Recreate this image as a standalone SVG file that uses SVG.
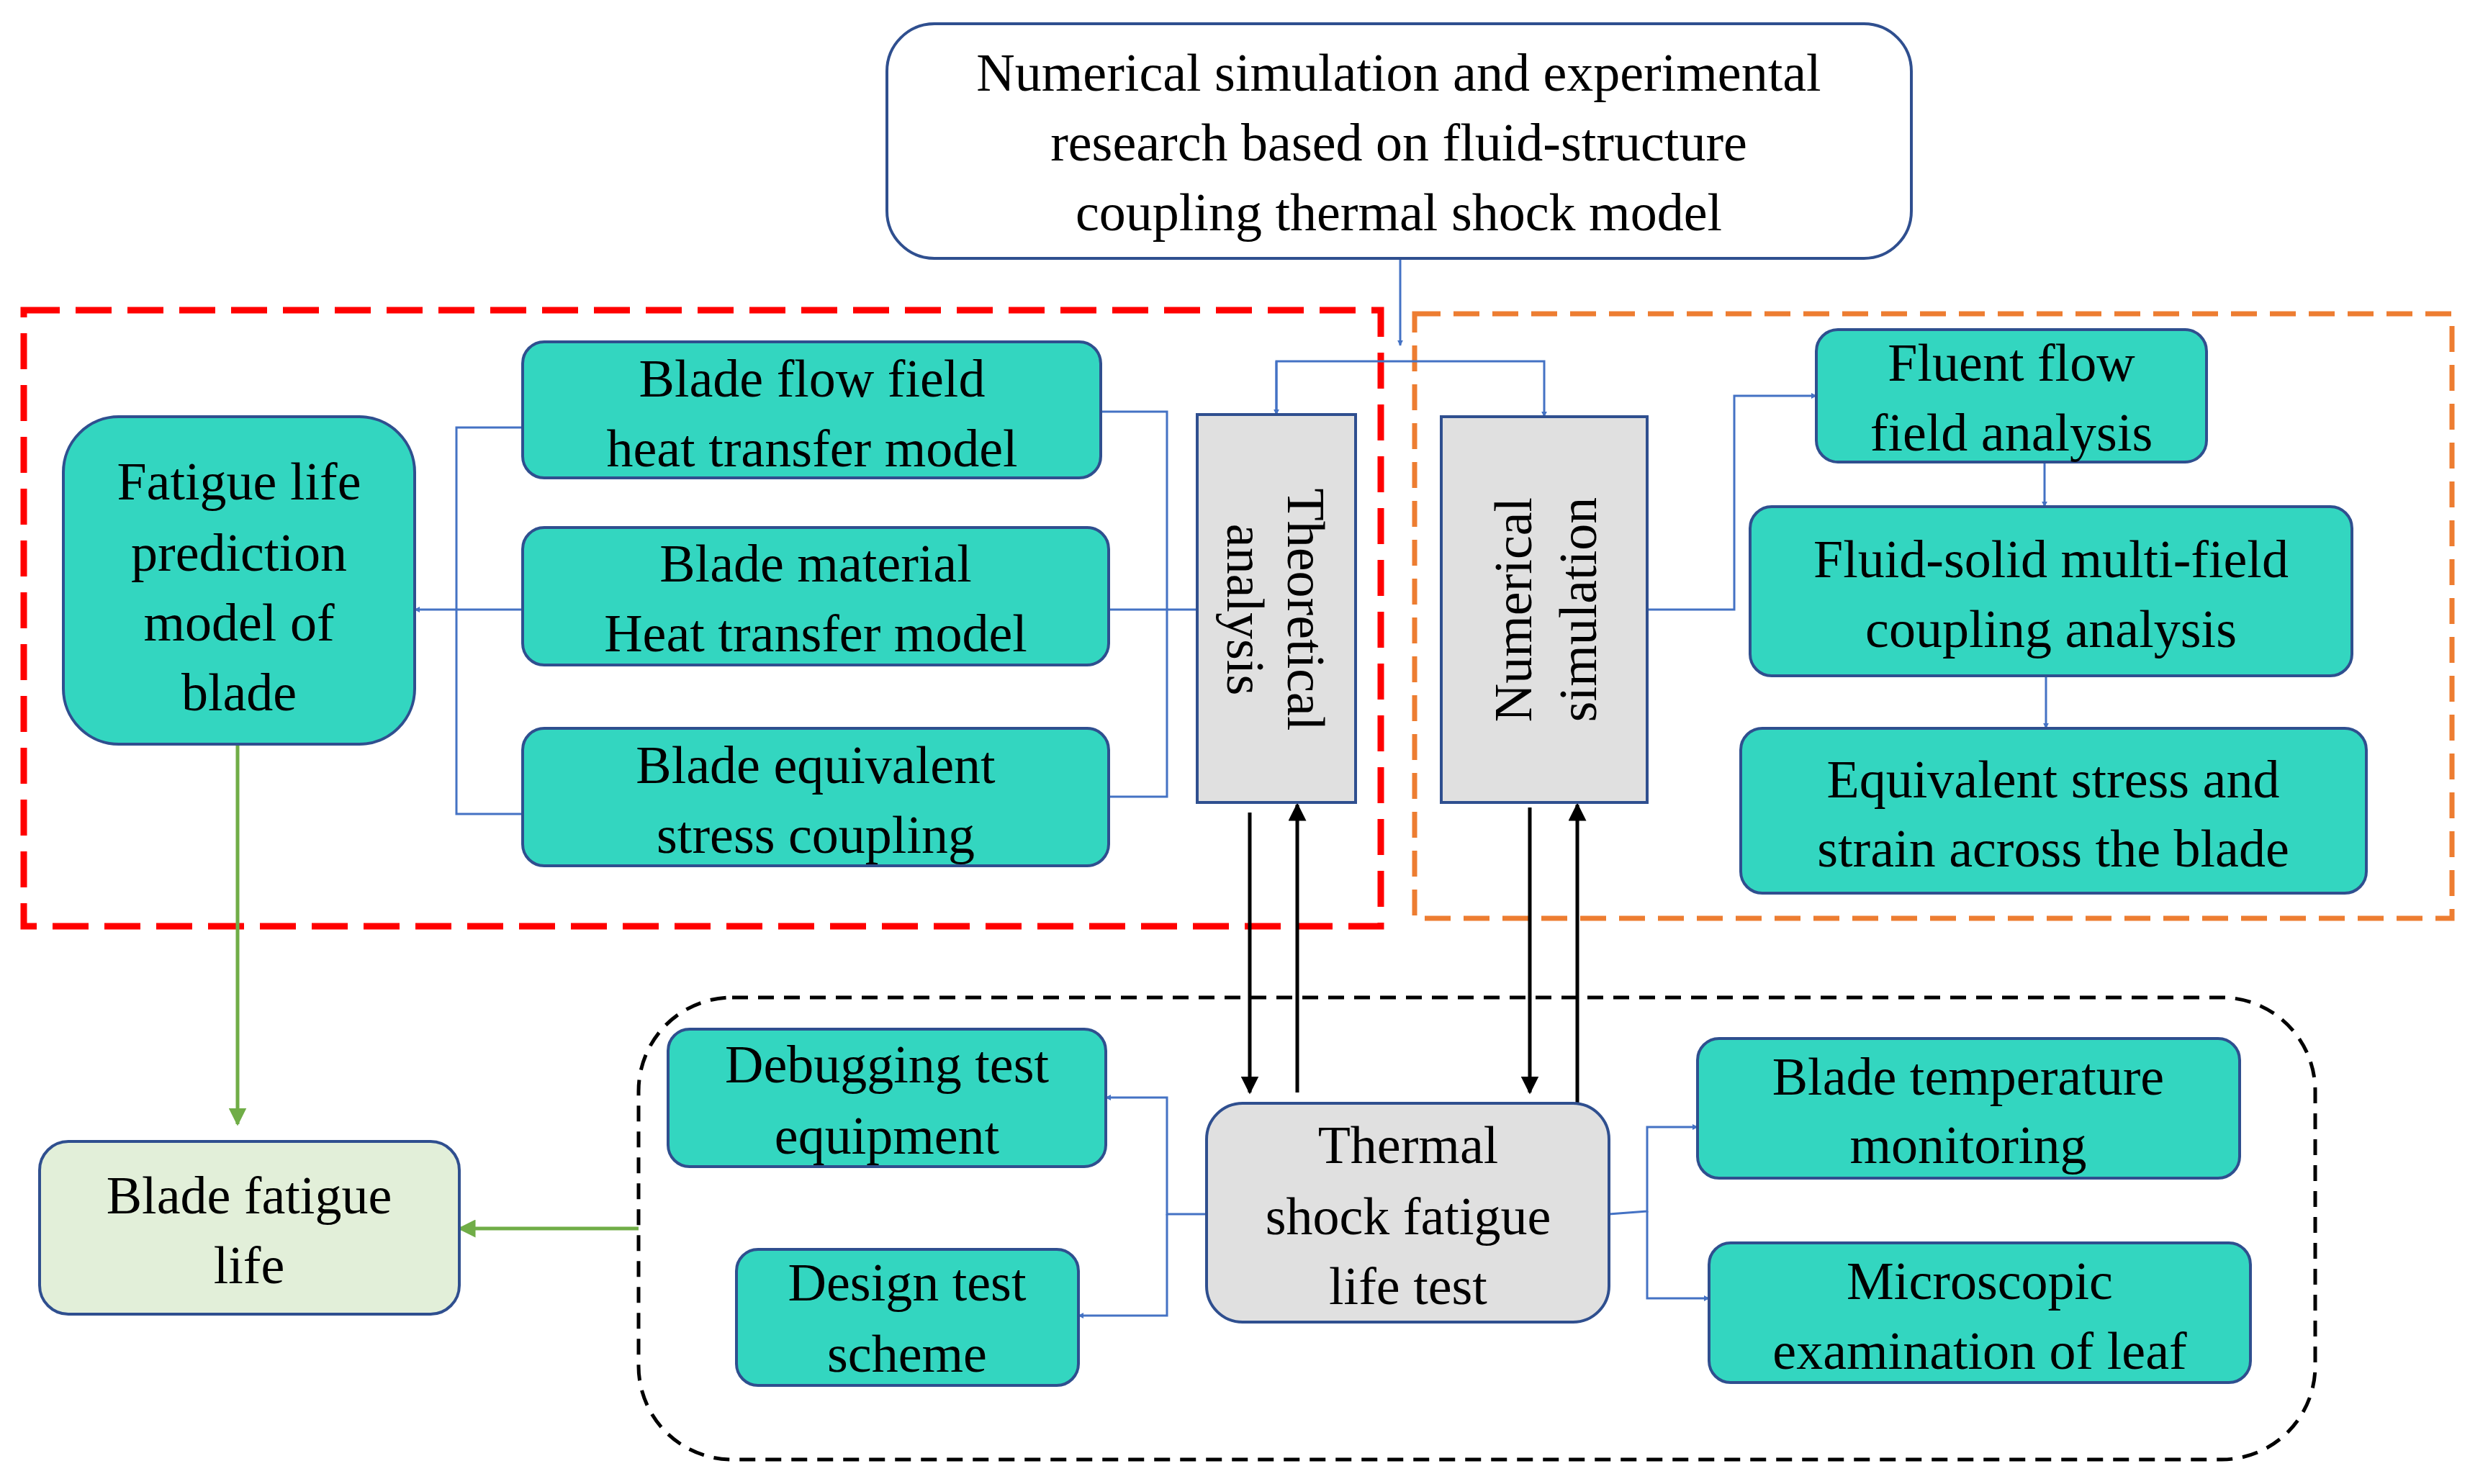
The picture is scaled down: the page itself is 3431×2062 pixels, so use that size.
<svg xmlns="http://www.w3.org/2000/svg" width="3431" height="2062" viewBox="0 0 3431 2062">
<style>
text{font-family:"Liberation Serif","Times New Roman",serif;font-size:74px;fill:#000;text-anchor:middle}
.g{fill:#33d6c0;stroke:#2f4f8f;stroke-width:4}
.gr{fill:#e0e0e0;stroke:#2f4f8f;stroke-width:4}
.b{fill:none;stroke:#4472c4;stroke-width:3}
.k{fill:none;stroke:#000;stroke-width:5}
.gn{fill:none;stroke:#70ad47;stroke-width:5}
</style>
<defs>
<marker id="ab" viewBox="0 0 10 10" refX="9" refY="5" markerWidth="8" markerHeight="8" markerUnits="userSpaceOnUse" orient="auto"><path d="M0,0L10,5L0,10z" fill="#4472c4"/></marker>
<marker id="ak" viewBox="0 0 10 10" refX="9" refY="5" markerWidth="5" markerHeight="5" orient="auto"><path d="M0,0L10,5L0,10z" fill="#000"/></marker>
<marker id="ag" viewBox="0 0 10 10" refX="9" refY="5" markerWidth="5" markerHeight="5" orient="auto"><path d="M0,0L10,5L0,10z" fill="#70ad47"/></marker>
</defs>
<rect width="3431" height="2062" fill="#fff"/>
<rect x="33" y="431" width="1885" height="856" fill="none" stroke="#ff0000" stroke-width="9" stroke-dasharray="50,22"/>
<rect x="1965" y="436" width="1441" height="840" fill="none" stroke="#ed7d31" stroke-width="7" stroke-dasharray="36,18"/>
<rect x="887" y="1386" width="2329" height="642" rx="130" fill="none" stroke="#000" stroke-width="5" stroke-dasharray="22,14"/>
<g id="connectors">
<path class="b" d="M1945,359V480" marker-end="url(#ab)"/>
<path class="b" d="M1773,576V502H2145V579" marker-end="url(#ab)"/>
<path class="b" d="M1773,502V576" marker-end="url(#ab)"/>
<path class="b" d="M1529,572H1621V1107H1540M1540,847H1663"/>
<path class="b" d="M726,594H634V1131H726"/>
<path class="b" d="M726,847H576" marker-end="url(#ab)"/>
<path class="b" d="M2288,847H2409V550H2523" marker-end="url(#ab)"/>
<path class="b" d="M2840,642V704" marker-end="url(#ab)"/>
<path class="b" d="M2842,939V1012" marker-end="url(#ab)"/>
<path class="b" d="M1676,1687H1621V1525H1536" marker-end="url(#ab)"/>
<path class="b" d="M1621,1687V1828H1498" marker-end="url(#ab)"/>
<path class="b" d="M2235,1687L2288,1683V1566H2358" marker-end="url(#ab)"/>
<path class="b" d="M2288,1683V1804H2374" marker-end="url(#ab)"/>
<path class="k" d="M1736,1129V1518" marker-end="url(#ak)"/>
<path class="k" d="M1802,1518V1118" marker-end="url(#ak)"/>
<path class="k" d="M2125,1122V1518" marker-end="url(#ak)"/>
<path class="k" d="M2191,1533V1118" marker-end="url(#ak)"/>
<path class="gn" d="M330,1034V1562" marker-end="url(#ag)"/>
<path class="gn" d="M887,1707H638" marker-end="url(#ag)"/>
</g>
<g id="top"><rect x="1232" y="33" width="1423" height="326" rx="66" fill="#fff" stroke="#2f4f8f" stroke-width="4"/>
<text x="1943" y="126">Numerical simulation and experimental</text><text x="1943" y="223">research based on fluid-structure</text><text x="1943" y="320">coupling thermal shock model</text></g>
<g id="flow"><rect class="g" x="726" y="475" width="803" height="189" rx="30"/><text x="1128" y="551">Blade flow field</text><text x="1128" y="648">heat transfer model</text></g>
<g id="material"><rect class="g" x="726" y="733" width="814" height="191" rx="30"/><text x="1133" y="808">Blade material</text><text x="1133" y="905">Heat transfer model</text></g>
<g id="equiv"><rect class="g" x="726" y="1012" width="814" height="191" rx="30"/><text x="1133" y="1088">Blade equivalent</text><text x="1133" y="1185">stress coupling</text></g>
<g id="fatigue"><rect class="g" x="88" y="579" width="488" height="455" rx="77"/><text x="332" y="694">Fatigue life</text><text x="332" y="793">prediction</text><text x="332" y="890">model of</text><text x="332" y="987">blade</text></g>
<g id="theo"><rect class="gr" x="1663" y="576" width="220" height="539"/><text transform="translate(1773,847) rotate(90)"><tspan x="0" y="-16">Theoretical</tspan><tspan x="0" y="68">analysis</tspan></text></g>
<g id="num"><rect class="gr" x="2002" y="579" width="286" height="536"/><text transform="translate(2145,847) rotate(-90)"><tspan x="0" y="-18">Numerical</tspan><tspan x="0" y="72">simulation</tspan></text></g>
<g id="fluent"><rect class="g" x="2523" y="458" width="542" height="184" rx="30"/><text x="2794" y="529">Fluent flow</text><text x="2794" y="626">field analysis</text></g>
<g id="fluid"><rect class="g" x="2431" y="704" width="836" height="235" rx="30"/><text x="2849" y="802">Fluid-solid multi-field</text><text x="2849" y="899">coupling analysis</text></g>
<g id="stress"><rect class="g" x="2418" y="1012" width="869" height="229" rx="30"/><text x="2852" y="1108">Equivalent stress and</text><text x="2852" y="1204">strain across the blade</text></g>
<g id="debug"><rect class="g" x="928" y="1430" width="608" height="191" rx="30"/><text x="1232" y="1504">Debugging test</text><text x="1232" y="1603">equipment</text></g>
<g id="design"><rect class="g" x="1023" y="1736" width="475" height="189" rx="30"/><text x="1260" y="1807">Design test</text><text x="1260" y="1906">scheme</text></g>
<g id="thermal"><rect class="gr" x="1676" y="1533" width="559" height="304" rx="50"/><text x="1956" y="1616">Thermal</text><text x="1956" y="1715">shock fatigue</text><text x="1956" y="1812">life test</text></g>
<g id="temp"><rect class="g" x="2358" y="1443" width="753" height="194" rx="30"/><text x="2734" y="1521">Blade temperature</text><text x="2734" y="1616">monitoring</text></g>
<g id="micro"><rect class="g" x="2374" y="1727" width="752" height="194" rx="30"/><text x="2750" y="1805">Microscopic</text><text x="2750" y="1902">examination of leaf</text></g>
<g id="life"><rect x="55" y="1586" width="583" height="240" rx="40" fill="#e2efd9" stroke="#2f4f8f" stroke-width="4"/><text x="346" y="1686">Blade fatigue</text><text x="346" y="1783">life</text></g>
</svg>
